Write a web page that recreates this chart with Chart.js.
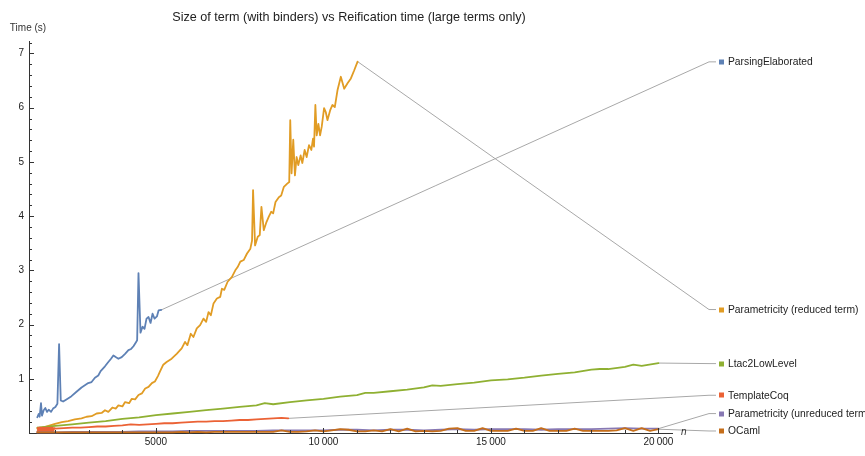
<!DOCTYPE html>
<html>
<head>
<meta charset="utf-8">
<script src="https://cdn.jsdelivr.net/npm/chart.js@4/dist/chart.umd.min.js"></script>
<style>
  html, body { margin: 0; padding: 0; background: #ffffff; }
  #wrap { width: 865px; height: 456px; }
</style>
</head>
<body>
<div id="wrap"><canvas id="chart" width="865" height="456"></canvas></div>
<script>
// Reification benchmarks: term size n vs. time in seconds.
const seriesNames = [
  "ParsingElaborated",
  "Parametricity (reduced term)",
  "Ltac2LowLevel",
  "TemplateCoq",
  "Parametricity (unreduced term)",
  "OCaml"
];

const parsingElaboratedN = [1460, 1500, 1530, 1570, 1600, 1650, 1700, 1750, 1800, 1870, 1930, 2000, 2060, 2110, 2160, 2230, 2330, 2480, 2630, 2780, 2880, 2980, 3080, 3180, 3280, 3350, 3480, 3580, 3660, 3730, 3800, 3880, 3980, 4080, 4180, 4260, 4330, 4410, 4440, 4480, 4540, 4600, 4660, 4720, 4780, 4840, 4900, 4960, 5030, 5080, 5160];
const parsingElaboratedT = [0.29, 0.35, 0.30, 0.55, 0.32, 0.42, 0.46, 0.39, 0.43, 0.39, 0.45, 0.48, 0.54, 1.64, 0.60, 0.58, 0.62, 0.68, 0.76, 0.84, 0.88, 0.92, 0.94, 1.02, 1.06, 1.14, 1.23, 1.31, 1.37, 1.43, 1.40, 1.37, 1.40, 1.46, 1.53, 1.55, 1.60, 1.68, 1.71, 2.95, 1.85, 1.96, 1.92, 2.11, 2.14, 2.03, 2.20, 2.11, 2.15, 2.26, 2.27];

const paramReducedN = [1460, 1670, 1990, 2190, 2380, 2580, 2780, 2930, 3080, 3230, 3380, 3480, 3580, 3700, 3800, 3880, 4000, 4080, 4200, 4280, 4380, 4480, 4580, 4680, 4780, 4880, 4970, 5060, 5120, 5220, 5320, 5470, 5620, 5770, 5870, 5940, 6040, 6120, 6220, 6320, 6420, 6500, 6570, 6640, 6720, 6820, 6920, 6970, 7040, 7140, 7270, 7370, 7440, 7520, 7620, 7720, 7820, 7870, 7900, 7960, 8040, 8100, 8150, 8220, 8300, 8370, 8440, 8500, 8570, 8670, 8740, 8820, 8920, 8980, 9010, 9050, 9100, 9150, 9200, 9250, 9320, 9370, 9440, 9500, 9570, 9640, 9690, 9720, 9760, 9800, 9850, 9900, 9950, 10020, 10070, 10120, 10200, 10270, 10340, 10420, 10520, 10620, 10720, 10820, 10920, 11020];
const paramReducedT = [0.08, 0.11, 0.17, 0.20, 0.22, 0.25, 0.27, 0.30, 0.31, 0.36, 0.37, 0.42, 0.39, 0.47, 0.45, 0.51, 0.49, 0.57, 0.55, 0.63, 0.62, 0.70, 0.73, 0.82, 0.85, 0.92, 0.95, 1.05, 1.13, 1.26, 1.31, 1.37, 1.46, 1.56, 1.68, 1.62, 1.83, 1.77, 1.93, 1.99, 2.11, 2.05, 2.23, 2.17, 2.39, 2.48, 2.51, 2.66, 2.64, 2.79, 2.88, 3.00, 3.06, 3.16, 3.19, 3.31, 3.40, 3.55, 4.48, 3.46, 3.62, 3.65, 4.17, 3.74, 3.89, 3.99, 4.08, 4.05, 4.26, 4.35, 4.38, 4.54, 4.60, 4.63, 5.77, 4.79, 5.41, 4.75, 5.09, 4.94, 5.12, 4.98, 5.22, 5.09, 5.31, 5.22, 5.43, 5.28, 6.05, 5.49, 5.70, 5.49, 5.65, 5.99, 5.92, 5.77, 5.95, 6.05, 6.01, 6.32, 6.57, 6.35, 6.45, 6.54, 6.69, 6.85];

const ltac2N = [1460, 2000, 2500, 3000, 3500, 4000, 4500, 5000, 5500, 6000, 6500, 7000, 7500, 8000, 8250, 8500, 9000, 9500, 10000, 10500, 11000, 11250, 11500, 12000, 12500, 13000, 13250, 13500, 14000, 14500, 15000, 15500, 16000, 16500, 17000, 17500, 18000, 18250, 18500, 19000, 19250, 19500, 20000];
const ltac2T = [0.10, 0.13, 0.16, 0.19, 0.22, 0.26, 0.29, 0.33, 0.36, 0.39, 0.42, 0.45, 0.48, 0.51, 0.55, 0.53, 0.57, 0.60, 0.63, 0.67, 0.70, 0.74, 0.74, 0.77, 0.80, 0.84, 0.88, 0.87, 0.90, 0.93, 0.97, 0.99, 1.02, 1.06, 1.09, 1.12, 1.17, 1.18, 1.18, 1.22, 1.26, 1.24, 1.29];

const templateCoqN = [1460, 1480, 1500, 1520, 1540, 1560, 1580, 1600, 1620, 1640, 1660, 1680, 1700, 1720, 1740, 1760, 1780, 1800, 1820, 1840, 1860, 1880, 1900, 1920, 1940, 1960, 1980, 2250, 2500, 2750, 3000, 3250, 3500, 3750, 4000, 4250, 4500, 4750, 5000, 5250, 5500, 5750, 6000, 6250, 6500, 6750, 7000, 7250, 7500, 7750, 8000, 8250, 8500, 8750, 8950];
const templateCoqT = [0.03, 0.10, 0.02, 0.10, 0.02, 0.10, 0.02, 0.10, 0.02, 0.10, 0.03, 0.10, 0.02, 0.10, 0.03, 0.10, 0.02, 0.10, 0.03, 0.10, 0.02, 0.10, 0.03, 0.10, 0.04, 0.09, 0.08, 0.09, 0.10, 0.10, 0.11, 0.12, 0.12, 0.13, 0.14, 0.16, 0.15, 0.16, 0.17, 0.18, 0.18, 0.19, 0.20, 0.21, 0.21, 0.22, 0.22, 0.23, 0.24, 0.24, 0.25, 0.26, 0.27, 0.28, 0.27];

const paramUnreducedN = [1460, 2000, 2500, 3000, 3500, 4000, 4500, 5000, 5500, 6000, 6500, 7000, 7500, 8000, 8500, 9000, 9500, 10000, 10500, 11000, 11500, 12000, 12500, 13000, 13500, 14000, 14500, 15000, 15500, 16000, 16500, 17000, 17500, 18000, 18500, 19000, 19500, 20000];
const paramUnreducedT = [0.01, 0.01, 0.02, 0.02, 0.02, 0.02, 0.03, 0.03, 0.03, 0.04, 0.04, 0.04, 0.04, 0.04, 0.05, 0.05, 0.05, 0.05, 0.06, 0.06, 0.05, 0.06, 0.06, 0.05, 0.06, 0.07, 0.06, 0.07, 0.07, 0.07, 0.06, 0.07, 0.07, 0.07, 0.08, 0.09, 0.08, 0.08];

const ocamlN = [1460, 1750, 2000, 2250, 2500, 2750, 3000, 3250, 3500, 3750, 4000, 4250, 4500, 4750, 5000, 5250, 5500, 5750, 6000, 6250, 6500, 6750, 7000, 7250, 7500, 7750, 8000, 8250, 8500, 8750, 9000, 9250, 9500, 9750, 10000, 10250, 10500, 10750, 11000, 11250, 11500, 11750, 12000, 12250, 12500, 12750, 13000, 13250, 13500, 13750, 14000, 14250, 14500, 14750, 15000, 15250, 15500, 15750, 16000, 16250, 16500, 16750, 17000, 17250, 17500, 17750, 18000, 18250, 18500, 18750, 19000, 19250, 19500, 19750, 20000];
const ocamlT = [0.01, 0.01, 0.01, 0.01, 0.01, 0.01, 0.01, 0.01, 0.01, 0.01, 0.01, 0.01, 0.01, 0.01, 0.01, 0.01, 0.01, 0.02, 0.01, 0.02, 0.01, 0.02, 0.02, 0.02, 0.02, 0.02, 0.02, 0.02, 0.02, 0.05, 0.02, 0.02, 0.03, 0.05, 0.03, 0.05, 0.07, 0.06, 0.03, 0.03, 0.05, 0.03, 0.07, 0.03, 0.08, 0.03, 0.04, 0.03, 0.04, 0.08, 0.09, 0.04, 0.04, 0.09, 0.04, 0.04, 0.04, 0.08, 0.04, 0.04, 0.09, 0.04, 0.04, 0.04, 0.08, 0.04, 0.04, 0.04, 0.04, 0.05, 0.09, 0.04, 0.09, 0.04, 0.07];

const xTickValues = [5000, 10000, 15000, 20000];
const yTickValues = [1, 2, 3, 4, 5, 6, 7];

const seriesN = [parsingElaboratedN, paramReducedN, ltac2N, templateCoqN, paramUnreducedN, ocamlN];
const seriesT = [parsingElaboratedT, paramReducedT, ltac2T, templateCoqT, paramUnreducedT, ocamlT];
const seriesColors = ["#5e81b5", "#e19c24", "#8fb032", "#eb6235", "#8778b3", "#c56e1a"];

const FONT = "'Liberation Sans', Arial, Helvetica, sans-serif";

function formatTick(v) {
  const s = String(Math.round(v));
  return s.length > 4 ? s.slice(0, s.length - 3) + "\u2009" + s.slice(-3) : s;
}

const datasets = seriesNames.map((name, i) => ({
  label: name,
  data: seriesN[i].map((n, k) => ({ x: n, y: seriesT[i][k] })),
  borderColor: seriesColors[i],
  backgroundColor: seriesColors[i],
  borderWidth: 1.8,
  borderJoinStyle: "round",
  borderCapStyle: "round",
  pointRadius: 0,
  pointHoverRadius: 0,
  tension: 0,
  fill: false,
  clip: false,
  order: seriesNames.length - i
}));

// Axis decorations: Mathematica-style inward ticks, title and axis labels.
const frame = {
  id: "frame",
  afterDraw(chart) {
    const { ctx, chartArea: a, scales: { x, y } } = chart;
    ctx.save();
    ctx.strokeStyle = "#333333";
    ctx.lineWidth = 1;
    ctx.beginPath();
    for (let v = 2000; v <= 20000; v += 1000) {
      const px = Math.round(x.getPixelForValue(v)) + 0.5;
      const len = v % 5000 === 0 ? 5 : 3;
      ctx.moveTo(px, a.bottom);
      ctx.lineTo(px, a.bottom - len);
    }
    for (let k = 1; k <= 36; k++) {
      const v = k / 5;
      const py = Math.round(y.getPixelForValue(v)) + 0.5;
      const len = k % 5 === 0 ? 5 : 3;
      ctx.moveTo(a.left, py);
      ctx.lineTo(a.left + len, py);
    }
    ctx.stroke();

    ctx.fillStyle = "#222222";
    ctx.textAlign = "center";
    ctx.textBaseline = "alphabetic";
    ctx.font = "12.6px " + FONT;
    ctx.fillText("Size of term (with binders) vs Reification time (large terms only)", 349, 20.5);

    ctx.fillStyle = "#333333";
    ctx.font = "10px " + FONT;
    ctx.textBaseline = "middle";
    ctx.fillText("Time (s)", 28, 28.5);

    ctx.textAlign = "left";
    ctx.font = "italic 10px " + FONT;
    ctx.fillText("n", a.right + 9, a.bottom - 1);
    ctx.restore();
  }
};

// Callout labels on the right, joined to each series' last point.
const callouts = {
  id: "callouts",
  beforeDatasetsDraw(chart, args, opts) {
    const { ctx, chartArea: a, scales: { y } } = chart;
    ctx.save();
    chart.data.datasets.forEach((ds, i) => {
      const meta = chart.getDatasetMeta(i);
      const last = meta.data[meta.data.length - 1];
      const ly = y.getPixelForValue(opts.levels[i]);
      ctx.strokeStyle = "#a8a8a8";
      ctx.lineWidth = 1;
      ctx.beginPath();
      ctx.moveTo(last.x, last.y);
      ctx.lineTo(a.right + 37, ly);
      ctx.lineTo(a.right + 44, ly);
      ctx.stroke();
    });
    ctx.restore();
  },
  afterDraw(chart, args, opts) {
    const { ctx, chartArea: a, scales: { y } } = chart;
    ctx.save();
    ctx.font = "10.3px " + FONT;
    ctx.textBaseline = "middle";
    ctx.textAlign = "left";
    chart.data.datasets.forEach((ds, i) => {
      const ly = y.getPixelForValue(opts.levels[i]);
      ctx.fillStyle = ds.borderColor;
      ctx.fillRect(a.right + 47, Math.round(ly) - 2.5, 5, 5);
      ctx.fillStyle = "#222222";
      ctx.fillText(ds.label, a.right + 56, ly + 0.5);
    });
    ctx.restore();
  }
};

new Chart(document.getElementById("chart"), {
  type: "line",
  data: { datasets },
  plugins: [callouts, frame],
  options: {
    responsive: false,
    animation: false,
    events: [],
    layout: { padding: { top: 41, right: 193, bottom: 0, left: 0 } },
    plugins: {
      legend: { display: false },
      tooltip: { enabled: false },
      title: { display: false },
      callouts: { levels: [6.845, 2.277, 1.28, 0.696, 0.358, 0.037] }
    },
    scales: {
      x: {
        type: "linear",
        min: 1212,
        max: 20405,
        grid: { display: false, drawTicks: false },
        border: { display: true, color: "#333333", width: 1 },
        ticks: {
          autoSkip: false,
          maxRotation: 0,
          padding: 3,
          color: "#222222",
          font: { family: FONT, size: 10 },
          callback: (v) => formatTick(v)
        },
        afterBuildTicks: (s) => { s.ticks = xTickValues.map((v) => ({ value: v })); },
        afterFit: (s) => { s.height = 23; }
      },
      y: {
        type: "linear",
        min: 0,
        max: 7.23,
        grid: { display: false, drawTicks: false },
        border: { display: true, color: "#333333", width: 1 },
        ticks: {
          autoSkip: false,
          padding: 5,
          color: "#222222",
          font: { family: FONT, size: 10 },
          callback: (v) => String(v)
        },
        afterBuildTicks: (s) => { s.ticks = yTickValues.map((v) => ({ value: v })); },
        afterFit: (s) => { s.width = 29; }
      }
    }
  }
});
</script>
</body>
</html>
